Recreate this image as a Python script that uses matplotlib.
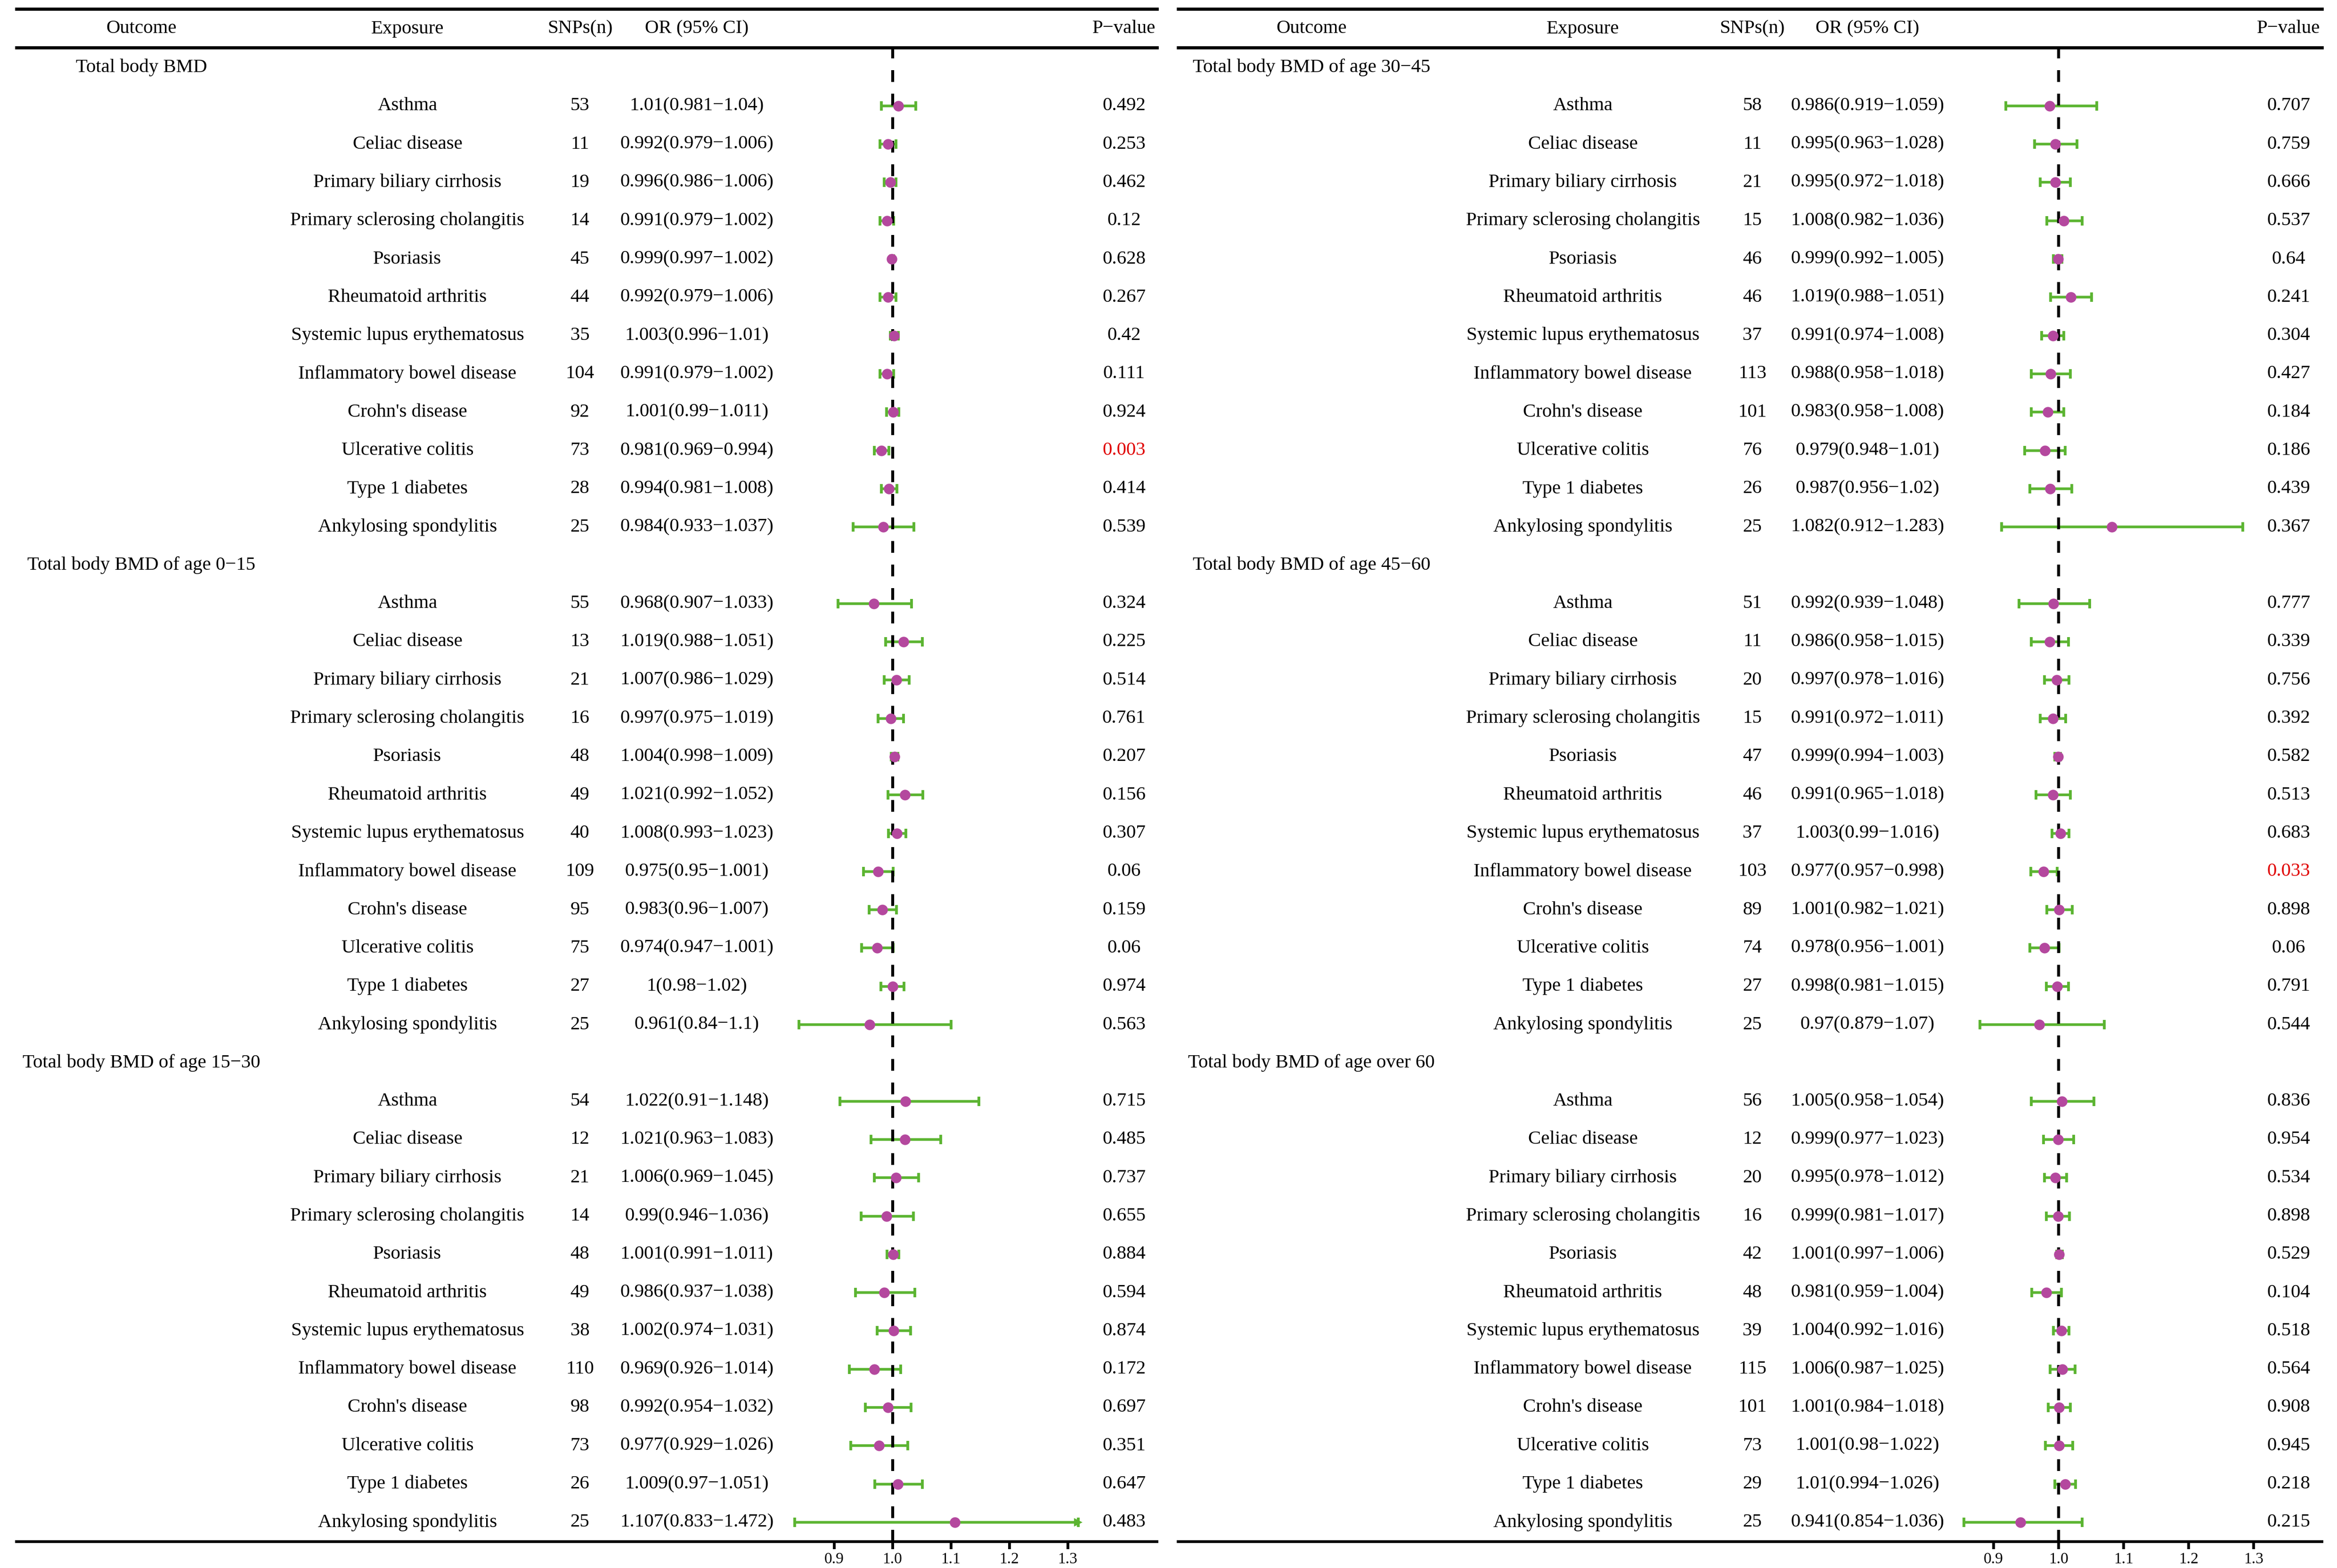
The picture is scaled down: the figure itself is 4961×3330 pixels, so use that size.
import matplotlib
matplotlib.use("Agg")
import matplotlib.pyplot as plt
import matplotlib.transforms as mtransforms

plt.rcParams['font.family'] = ['Liberation Serif', 'DejaVu Serif']

exposures = ["Asthma", "Celiac disease", "Primary biliary cirrhosis",
             "Primary sclerosing cholangitis", "Psoriasis", "Rheumatoid arthritis",
             "Systemic lupus erythematosus", "Inflammatory bowel disease",
             "Crohn's disease", "Ulcerative colitis", "Type 1 diabetes",
             "Ankylosing spondylitis"]

# left panel
outcomes_left = ["Total body BMD", "Total body BMD of age 0\u221215",
                 "Total body BMD of age 15\u221230"]
snps_left = [
    [53, 11, 19, 14, 45, 44, 35, 104, 92, 73, 28, 25],
    [55, 13, 21, 16, 48, 49, 40, 109, 95, 75, 27, 25],
    [54, 12, 21, 14, 48, 49, 38, 110, 98, 73, 26, 25],
]
or_left = [
    [1.01, 0.992, 0.996, 0.991, 0.999, 0.992, 1.003, 0.991, 1.001, 0.981, 0.994, 0.984],
    [0.968, 1.019, 1.007, 0.997, 1.004, 1.021, 1.008, 0.975, 0.983, 0.974, 1, 0.961],
    [1.022, 1.021, 1.006, 0.99, 1.001, 0.986, 1.002, 0.969, 0.992, 0.977, 1.009, 1.107],
]
lo_left = [
    [0.981, 0.979, 0.986, 0.979, 0.997, 0.979, 0.996, 0.979, 0.99, 0.969, 0.981, 0.933],
    [0.907, 0.988, 0.986, 0.975, 0.998, 0.992, 0.993, 0.95, 0.96, 0.947, 0.98, 0.84],
    [0.91, 0.963, 0.969, 0.946, 0.991, 0.937, 0.974, 0.926, 0.954, 0.929, 0.97, 0.833],
]
hi_left = [
    [1.04, 1.006, 1.006, 1.002, 1.002, 1.006, 1.01, 1.002, 1.011, 0.994, 1.008, 1.037],
    [1.033, 1.051, 1.029, 1.019, 1.009, 1.052, 1.023, 1.001, 1.007, 1.001, 1.02, 1.1],
    [1.148, 1.083, 1.045, 1.036, 1.011, 1.038, 1.031, 1.014, 1.032, 1.026, 1.051, 1.472],
]
p_left = [
    [0.492, 0.253, 0.462, 0.12, 0.628, 0.267, 0.42, 0.111, 0.924, 0.003, 0.414, 0.539],
    [0.324, 0.225, 0.514, 0.761, 0.207, 0.156, 0.307, 0.06, 0.159, 0.06, 0.974, 0.563],
    [0.715, 0.485, 0.737, 0.655, 0.884, 0.594, 0.874, 0.172, 0.697, 0.351, 0.647, 0.483],
]

# right panel
outcomes_right = ["Total body BMD of age 30\u221245", "Total body BMD of age 45\u221260",
                  "Total body BMD of age over 60"]
snps_right = [
    [58, 11, 21, 15, 46, 46, 37, 113, 101, 76, 26, 25],
    [51, 11, 20, 15, 47, 46, 37, 103, 89, 74, 27, 25],
    [56, 12, 20, 16, 42, 48, 39, 115, 101, 73, 29, 25],
]
or_right = [
    [0.986, 0.995, 0.995, 1.008, 0.999, 1.019, 0.991, 0.988, 0.983, 0.979, 0.987, 1.082],
    [0.992, 0.986, 0.997, 0.991, 0.999, 0.991, 1.003, 0.977, 1.001, 0.978, 0.998, 0.97],
    [1.005, 0.999, 0.995, 0.999, 1.001, 0.981, 1.004, 1.006, 1.001, 1.001, 1.01, 0.941],
]
lo_right = [
    [0.919, 0.963, 0.972, 0.982, 0.992, 0.988, 0.974, 0.958, 0.958, 0.948, 0.956, 0.912],
    [0.939, 0.958, 0.978, 0.972, 0.994, 0.965, 0.99, 0.957, 0.982, 0.956, 0.981, 0.879],
    [0.958, 0.977, 0.978, 0.981, 0.997, 0.959, 0.992, 0.987, 0.984, 0.98, 0.994, 0.854],
]
hi_right = [
    [1.059, 1.028, 1.018, 1.036, 1.005, 1.051, 1.008, 1.018, 1.008, 1.01, 1.02, 1.283],
    [1.048, 1.015, 1.016, 1.011, 1.003, 1.018, 1.016, 0.998, 1.021, 1.001, 1.015, 1.07],
    [1.054, 1.023, 1.012, 1.017, 1.006, 1.004, 1.016, 1.025, 1.018, 1.022, 1.026, 1.036],
]
p_right = [
    [0.707, 0.759, 0.666, 0.537, 0.64, 0.241, 0.304, 0.427, 0.184, 0.186, 0.439, 0.367],
    [0.777, 0.339, 0.756, 0.392, 0.582, 0.513, 0.683, 0.033, 0.898, 0.06, 0.791, 0.544],
    [0.836, 0.954, 0.534, 0.898, 0.529, 0.104, 0.518, 0.564, 0.908, 0.945, 0.218, 0.215],
]

headers = ["Outcome", "Exposure", "SNPs(n)", "OR (95% CI)", "P\u2212value"]
ticks = [0.9, 1.0, 1.1, 1.2, 1.3]
tick_labels = ["0.9", "1.0", "1.1", "1.2", "1.3"]

GREEN = "#5bb431"
PURPLE = "#b4489e"
FS = 9.8

W, H = 4961, 3330
fig = plt.figure(figsize=(W / 300, H / 300), dpi=300)


def draw_panel(x0, x1, xlim, cols, outcomes, snps, ors, los, his, ps, clip_hi):
    # x0/x1 in pixels, y in row units
    top_px, bot_px = 101, 3274
    ax = fig.add_axes([x0 / W, 1 - bot_px / H, (x1 - x0) / W, (bot_px - top_px) / H])
    row0, step = 143.5, 81.3
    ax.set_ylim((bot_px - row0) / step, (top_px - row0) / step)
    ax.set_xlim(*xlim)
    tr = mtransforms.blended_transform_factory(ax.transAxes, ax.transData)

    for s in ["left", "right"]:
        ax.spines[s].set_visible(False)
    ax.spines["bottom"].set_linewidth(1.4)
    ax.spines["top"].set_linewidth(1.6)
    ax.set_yticks([])
    ax.set_xticks(ticks)
    ax.set_xticklabels(tick_labels, fontsize=8)
    ax.tick_params(axis="x", length=3.8, width=1.4, pad=1.5)

    # header row
    y_head = (61 - row0) / step
    y_line = (19 - row0) / step
    ax.plot([0, 1], [y_line, y_line], color="black", lw=1.6, transform=tr, clip_on=False)
    for c, h in zip(cols, headers):
        ax.text(c, y_head, h, transform=tr, ha="center", va="center", fontsize=FS)

    ax.axvline(1.0, color="black", lw=1.5, linestyle=(0, (4, 4)), zorder=3)

    for g, name in enumerate(outcomes):
        yg = g * 13
        ax.text(cols[0], yg, name, transform=tr, ha="center", va="center", fontsize=FS)
        for i, exp in enumerate(exposures):
            y = yg + 1 + i
            o, lo, hi, p = ors[g][i], los[g][i], his[g][i], ps[g][i]
            ax.text(cols[1], y, exp, transform=tr, ha="center", va="center", fontsize=FS)
            ax.text(cols[2], y, str(snps[g][i]), transform=tr, ha="center", va="center", fontsize=FS)
            ax.text(cols[3], y, f"{o:g}({lo:g}\u2212{hi:g})", transform=tr,
                    ha="center", va="center", fontsize=FS)
            ax.text(cols[4], y, f"{p:g}", transform=tr, ha="center", va="center",
                    fontsize=FS, color="#e00000" if p < 0.05 else "black")
            hi_c = min(hi, clip_hi)
            ax.errorbar(o, y, xerr=[[o - lo], [hi_c - o]], fmt="none", ecolor=GREEN,
                        elinewidth=1.35, capsize=2.5, capthick=1.4, zorder=2)
            if hi > clip_hi:
                ax.plot(hi_c, y, marker=">", color=GREEN, ms=4.5, mec="none", zorder=2)
            ax.plot(o, y, "o", color=PURPLE, ms=5.4, mec="none", zorder=4)
    return ax


# left: 1.0 at 1894.5 px, 1240 px per unit
draw_panel(35, 2456, (1 + (35 - 1894.5) / 1240, 1 + (2456 - 1894.5) / 1240),
           [0.1095, 0.3428, 0.494, 0.5965, 0.9711],
           outcomes_left, snps_left, or_left, lo_left, hi_left, p_left, 1.318)
# right: 1.0 at 4370 px, 1380 px per unit
draw_panel(2501, 4929, (1 + (2501 - 4370) / 1380, 1 + (4929 - 4370) / 1380),
           [0.1166, 0.3538, 0.502, 0.6026, 0.9708],
           outcomes_right, snps_right, or_right, lo_right, hi_right, p_right, 1.318)

fig.savefig("out.png", dpi=300)
